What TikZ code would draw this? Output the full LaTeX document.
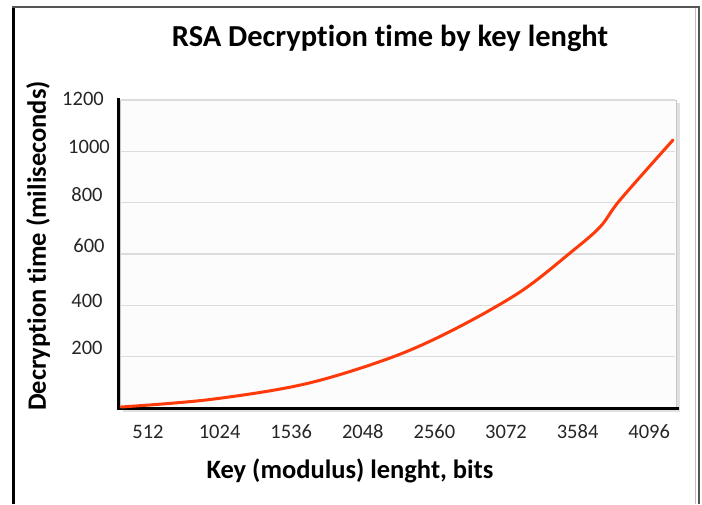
\documentclass[tikz,border=0pt]{standalone}
\usepackage{fontspec}
\setmainfont{Carlito}[Ligatures={NoCommon,NoRequired,NoContextual}]
\definecolor{curvered}{HTML}{FF3A0A}
\definecolor{gridgray}{HTML}{DCDCDC}
\definecolor{plotbg}{HTML}{FBFCFB}
\definecolor{framegray}{HTML}{555555}
\begin{document}
\begin{tikzpicture}[x=1pt,y=-1pt,
  ticklabel/.style={font=\fontsize{20.5}{24}\selectfont, text=black!85, inner sep=0pt},
  axistitle/.style={font=\fontsize{26.5}{30}\selectfont\bfseries, inner sep=0pt},
  gridline/.style={draw=gridgray, line width=1.5pt},
  axisline/.style={draw=black, line width=3pt},
  curveline/.style={draw=curvered, line width=3pt, line cap=round, line join=round}]
\useasboundingbox (0,0) rectangle (702,504);
\fill[white] (0,0) rectangle (702,504);

% outer frame (open at the bottom)
\draw[black, line width=3pt] (13,504) -- (13,7);
\draw[framegray, line width=2pt] (12,7) -- (699,7) -- (699,504);
\draw[black!25, line width=1pt] (695,8) -- (695,504);

% plot area with a soft shadow
\fill[black!12] (123,103) rectangle (680,412);
\fill[plotbg] (120,100) rectangle (676,408);
\draw[black!22, line width=1pt] (120,100) rectangle (676,408);

% horizontal gridlines every 200 ms
\foreach \n in {1,...,6}
  \draw[gridline] (121,{408-\n*51.33}) -- (675,{408-\n*51.33});

% axes
\draw[axisline] (118.5,98) -- (118.5,408.5) -- (679,408.5);

% y tick labels
\node[ticklabel] (y1200) at (83,99)  {1200};
\node[ticklabel] (y1000) at (89,147) {1000};
\node[ticklabel] (y800)  at (87,195) {800};
\node[ticklabel] (y600)  at (89,246) {600};
\node[ticklabel] (y400)  at (87,301) {400};
\node[ticklabel] (y200)  at (87,348) {200};

% x tick labels
\foreach \k/\lab in {0/512,1/1024,2/1536,3/2048,4/2560,5/3072,6/3584,7/4096}
  \node[ticklabel] (x\lab) at ({148+\k*71.6},432) {\lab};

% decryption time curve
\draw[curveline] plot[smooth, tension=0.55] coordinates {
  (121,407) (210,399.5) (305,384) (390,358) (453,330) (520,292)
  (570,253) (600,227) (620,200) (673,140)};

% titles
\node[font=\fontsize{30.5}{34}\selectfont\bfseries, inner sep=0pt] (title) at (390,38)
  {RSA Decryption time by key lenght};
\node[axistitle] (xtitle) at (350,471) {Key (modulus) lenght, bits};
\node[axistitle, rotate=90] (ytitle) at (38,246) {Decryption time (miliseconds)};
\end{tikzpicture}
\end{document}
